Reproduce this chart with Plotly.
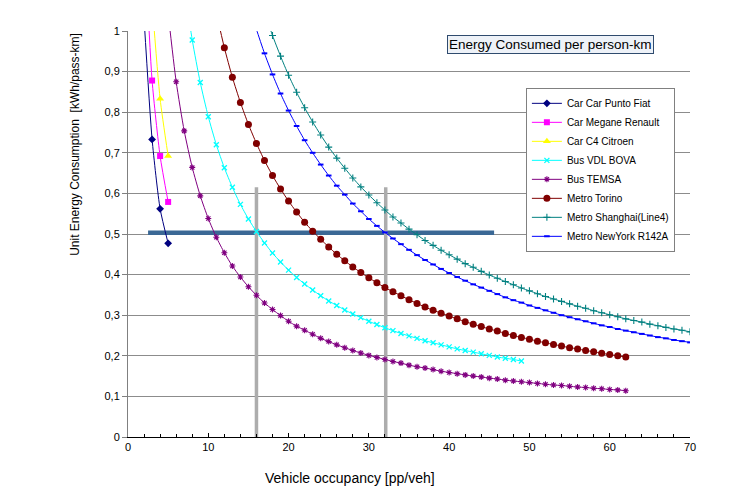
import plotly.graph_objects as go

# ---------------- data ----------------
fiat_x = [2, 3, 4, 5]
fiat_y = [1.03, 0.733, 0.562, 0.477]

megane_x = [2, 3, 4, 5]
megane_y = [1.25, 0.878, 0.692, 0.579]

citroen_x = [3, 4, 5]
citroen_y = [1.07, 0.833, 0.692]

vdl_x = list(range(7, 50))
vdl_y = [1.113, 0.978, 0.873, 0.789, 0.720, 0.663, 0.615, 0.573, 0.537, 0.506,
         0.478, 0.453, 0.431, 0.411, 0.393, 0.377, 0.362, 0.348, 0.335, 0.324,
         0.313, 0.303, 0.294, 0.285, 0.277, 0.269, 0.262, 0.255, 0.249, 0.243,
         0.237, 0.232, 0.227, 0.222, 0.217, 0.213, 0.209, 0.205, 0.201, 0.197,
         0.194, 0.191, 0.187]

temsa_x = list(range(5, 63))
temsa_y = [1.043, 0.875, 0.754, 0.664, 0.594, 0.538, 0.492, 0.454, 0.421, 0.394,
           0.370, 0.349, 0.330, 0.314, 0.299, 0.285, 0.273, 0.263, 0.253, 0.243,
           0.235, 0.227, 0.220, 0.213, 0.207, 0.201, 0.196, 0.191, 0.186, 0.182,
           0.177, 0.173, 0.170, 0.166, 0.162, 0.159, 0.156, 0.153, 0.150, 0.148,
           0.145, 0.143, 0.140, 0.138, 0.136, 0.134, 0.132, 0.130, 0.128, 0.127,
           0.125, 0.123, 0.122, 0.120, 0.119, 0.117, 0.116, 0.114]

torino_x = list(range(11, 63))
torino_y = [1.045, 0.959, 0.886, 0.824, 0.770, 0.723, 0.681, 0.644, 0.611, 0.581,
            0.554, 0.529, 0.507, 0.487, 0.468, 0.450, 0.434, 0.419, 0.405, 0.392,
            0.380, 0.368, 0.358, 0.348, 0.338, 0.329, 0.320, 0.312, 0.305, 0.298,
            0.291, 0.284, 0.278, 0.272, 0.266, 0.261, 0.255, 0.250, 0.245, 0.241,
            0.236, 0.232, 0.228, 0.224, 0.220, 0.217, 0.213, 0.210, 0.206, 0.203,
            0.200, 0.197]

shanghai_x = list(range(17, 71))
shanghai_y = [1.047, 0.989, 0.938, 0.891, 0.849, 0.811, 0.776, 0.744, 0.714, 0.687,
              0.662, 0.638, 0.616, 0.596, 0.577, 0.559, 0.542, 0.527, 0.512, 0.498,
              0.484, 0.472, 0.460, 0.449, 0.438, 0.427, 0.418, 0.408, 0.399, 0.391,
              0.383, 0.375, 0.367, 0.360, 0.353, 0.346, 0.340, 0.334, 0.328, 0.322,
              0.317, 0.311, 0.306, 0.301, 0.296, 0.291, 0.287, 0.283, 0.278, 0.274,
              0.270, 0.266, 0.263, 0.259]

newyork_x = list(range(15, 71))
newyork_y = [1.071, 1.004, 0.945, 0.893, 0.846, 0.804, 0.766, 0.731, 0.700, 0.671,
             0.644, 0.619, 0.597, 0.575, 0.556, 0.537, 0.520, 0.504, 0.489, 0.475,
             0.461, 0.448, 0.436, 0.425, 0.414, 0.404, 0.394, 0.385, 0.376, 0.368,
             0.360, 0.352, 0.344, 0.337, 0.331, 0.324, 0.318, 0.312, 0.306, 0.300,
             0.295, 0.290, 0.285, 0.280, 0.275, 0.271, 0.266, 0.262, 0.258, 0.254,
             0.250, 0.246, 0.243, 0.239, 0.236, 0.233]

# reference lines
hline_x = [2.5, 45.6]
hline_y = [0.503, 0.503]
vline1_x = [16, 16]
vline2_x = [32.1, 32.1]
vline_y = [0, 0.615]

y_tickvals = [0, 0.1, 0.2, 0.3, 0.4, 0.5, 0.6, 0.7, 0.8, 0.9, 1]
y_ticktext = ["0", "0,1", "0,2", "0,3", "0,4", "0,5", "0,6", "0,7", "0,8", "0,9", "1"]
x_tickvals = [0, 10, 20, 30, 40, 50, 60, 70]

FONT = "Liberation Sans, Arial, sans-serif"

fig = go.Figure()

# reference lines (drawn below the series)
fig.add_trace(go.Scatter(x=hline_x, y=hline_y, mode="lines",
                         line=dict(color="#3B6895", width=4.5),
                         showlegend=False, hoverinfo="skip"))
for vx in (vline1_x, vline2_x):
    fig.add_trace(go.Scatter(x=vx, y=vline_y, mode="lines",
                             line=dict(color="#ADADAD", width=3.5),
                             showlegend=False, hoverinfo="skip"))

series = [
    ("Car Car Punto Fiat", fiat_x, fiat_y, "#000080", "diamond", 6, 0),
    ("Car Megane Renault", megane_x, megane_y, "#FF00FF", "square", 6, 0),
    ("Car C4 Citroen", citroen_x, citroen_y, "#FFFF00", "triangle-up", 7, 0),
    ("Bus VDL BOVA", vdl_x, vdl_y, "#00FFFF", "x-thin-open", 5, 1.3),
    ("Bus TEMSA", temsa_x, temsa_y, "#800080", "asterisk-open", 5, 1.1),
    ("Metro Torino", torino_x, torino_y, "#800000", "circle", 7, 0),
    ("Metro Shanghai(Line4)", shanghai_x, shanghai_y, "#008080", "cross-thin-open", 5, 1.1),
    ("Metro NewYork R142A", newyork_x, newyork_y, "#0000FF", "line-ew-open", 4, 2),
]
for name, xs, ys, col, sym, size, lw in series:
    marker = dict(color=col, symbol=sym, size=size)
    if lw:
        marker["line"] = dict(color=col, width=lw)
    fig.add_trace(go.Scatter(x=xs, y=ys, name=name, mode="lines+markers",
                             line=dict(color=col, width=1, shape="spline", smoothing=0.6),
                             marker=marker))

fig.update_layout(
    width=752, height=495,
    margin=dict(l=128, r=62, t=31, b=58),
    paper_bgcolor="white", plot_bgcolor="white",
    font=dict(family=FONT, size=11, color="#000000"),
    showlegend=True,
    legend=dict(x=0.708, y=0.86, xanchor="left", yanchor="top",
                bgcolor="white", bordercolor="#808080", borderwidth=1,
                font=dict(family=FONT, size=10, color="#000000"),
                itemwidth=30, tracegroupgap=0),
    xaxis=dict(range=[0, 70], tickvals=x_tickvals, showgrid=False, zeroline=False,
               showline=True, linecolor="#000000", linewidth=1,
               ticks="inside", ticklen=4, tickcolor="#000000",
               minor=dict(dtick=2, ticks="inside", ticklen=3, tickcolor="#000000", showgrid=False),
               tickfont=dict(family=FONT, size=11, color="#000000")),
    yaxis=dict(range=[0, 1], tickvals=y_tickvals, ticktext=y_ticktext,
               showgrid=True, gridcolor="#8C8C8C", gridwidth=1, zeroline=False,
               showline=True, linecolor="#808080", linewidth=1,
               ticks="outside", ticklen=5, tickcolor="#808080",
               tickfont=dict(family=FONT, size=11, color="#000000")),
    annotations=[
        dict(text="Energy Consumed per person-km", xref="paper", yref="paper",
             x=0.751, y=0.967, xanchor="center", yanchor="middle", showarrow=False,
             font=dict(family=FONT, size=13.5, color="#000000"),
             bgcolor="#EEF2F8", bordercolor="#2F4B6E", borderwidth=1, borderpad=1),
        dict(text="Vehicle occupancy [pp/veh]", xref="paper", yref="paper",
             x=0.395, y=-0.101, xanchor="center", yanchor="middle", showarrow=False,
             font=dict(family=FONT, size=14, color="#000000")),
        dict(text="Unit Energy Consumption  [kWh/pass-km]", xref="paper", yref="paper",
             x=-0.094, y=0.72, xanchor="center", yanchor="middle", showarrow=False,
             textangle=-90, font=dict(family=FONT, size=12, color="#000000")),
    ],
)

fig.write_html("out.html")
